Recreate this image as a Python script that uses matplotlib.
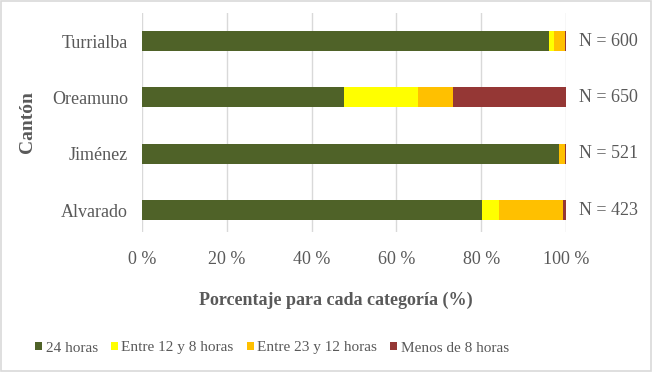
import matplotlib
matplotlib.use("Agg")
import matplotlib.pyplot as plt
from matplotlib.patches import Rectangle

# datos (porcentajes)
cantones = ["Alvarado", "Jiménez", "Oreamuno", "Turrialba"]
n_labels = ["N = 423", "N = 521", "N = 650", "N = 600"]
h24 = [80.2, 98.3, 47.7, 96.0]
h12_8 = [4.0, 0.0, 17.5, 1.2]
h23_12 = [15.1, 1.5, 8.1, 2.6]
menos8 = [0.7, 0.2, 26.7, 0.2]

series = [
    ("24 horas", h24, "#4F6228"),
    ("Entre 12 y 8 horas", h12_8, "#FFFF00"),
    ("Entre 23 y 12 horas", h23_12, "#FFC000"),
    ("Menos de 8 horas", menos8, "#953735"),
]

plt.rcParams["font.family"] = ["Liberation Serif", "DejaVu Serif"]
gris = "#595959"

fig = plt.figure(figsize=(6.52, 3.72), dpi=100)
ax = fig.add_axes([142 / 652, 140 / 372, 424 / 652, 219 / 372])

pos = list(range(len(cantones)))
left = [0.0] * len(cantones)
for nombre, vals, col in series:
    ax.barh(pos, vals, left=left, height=0.355, color=col, label=nombre, zorder=3)
    left = [a + b for a, b in zip(left, vals)]

for p, txt in zip(pos, n_labels):
    ax.text(110, p, txt, ha="center", va="center", fontsize=13, color=gris)

ax.set_xlim(0, 100)
ax.set_ylim(-0.39, 3.5)
ax.set_xticks([0, 20, 40, 60, 80, 100])
ax.set_xticklabels([f"{v} %" for v in [0, 20, 40, 60, 80, 100]])
ax.set_yticks(pos)
ax.set_yticklabels(cantones)
ax.tick_params(axis="both", length=0, labelsize=13, colors=gris)
ax.tick_params(axis="x", pad=14)
ax.tick_params(axis="y", pad=10)
ax.grid(axis="x", color="#D9D9D9", linewidth=1, zorder=0)
for s in ax.spines.values():
    s.set_visible(False)

ax.set_ylabel("Cantón", fontsize=14, fontweight="bold", color=gris)
ax.yaxis.set_label_coords(-0.25, 0.5)
fig.text(336 / 652, 1 - 300 / 372, "Porcentaje para cada categoría (%)",
         ha="center", va="center", fontsize=13, fontweight="bold", color=gris)

leg = fig.legend(loc="center", bbox_to_anchor=(272 / 652, 1 - 348 / 372), ncol=4,
                 frameon=False, fontsize=11, handlelength=0.45, handleheight=0.45,
                 handletextpad=0.25, columnspacing=0.85, labelcolor=gris)

# marco gris alrededor de la figura
fig.patches.append(Rectangle((0.002, 0.003), 0.996, 0.994, transform=fig.transFigure,
                             fill=False, edgecolor="#D9D9D9", linewidth=1.2))

fig.savefig("out.png", dpi=100)
